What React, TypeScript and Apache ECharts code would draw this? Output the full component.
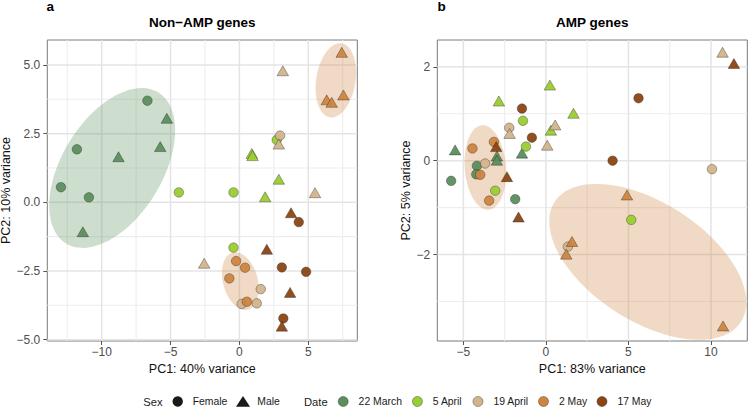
import React, { useEffect, useRef } from 'react';
import * as echarts from 'echarts';

// Sampling dates and the colour used for each one
const dates = ['22 March', '5 April', '19 April', '2 May', '17 May'];
const dateColors = ['#5b8e5d', '#9acd32', '#d2b48c', '#cd853f', '#8b4513'];

// PCA scores [PC1, PC2], one list per sampling date (same order as `dates`)
const nonAmpFemale: [number, number][][] = [
  [[-6.68, 3.7], [-11.8, 1.93], [-12.96, 0.55], [-10.93, 0.18]],
  [[-4.4, 0.36], [-0.43, 0.36], [2.71, 2.27], [-0.43, -1.65]],
  [[2.95, 2.43], [1.55, -3.16], [0.17, -3.7], [1.26, -3.68]],
  [[-0.24, -2.14], [0.41, -2.38], [-0.73, -2.77], [0.54, -3.62]],
  [[4.31, -0.72], [3.08, -2.37], [4.84, -2.53], [3.19, -4.23]],
];
const nonAmpMale: [number, number][][] = [
  [[-5.27, 3.06], [-5.75, 2.03], [-8.78, 1.66], [-11.37, -1.07]],
  [[0.9, 1.78], [0.95, 1.7], [2.86, 0.84], [1.87, 0.2]],
  [[3.15, 4.79], [2.86, 2.12], [5.49, 0.35], [-2.56, -2.22]],
  [[7.43, 5.46], [6.34, 3.73], [6.7, 3.64], [7.55, 3.91]],
  [[3.75, -0.38], [1.99, -1.71], [3.68, -3.28], [3.08, -4.51]],
];
const ampFemale: [number, number][][] = [
  [[-4.18, -0.11], [-4.22, -0.29], [-5.74, -0.43], [-1.86, -0.82]],
  [[-1.39, 0.85], [-1.21, 0.3], [-3.07, -0.64], [5.17, -1.26]],
  [[-2.22, 0.7], [-3.68, -0.06], [10.06, -0.18], [1.33, -1.83]],
  [[-4.45, 0.26], [-3.15, 0.4], [-3.98, -0.3], [-3.44, -0.85]],
  [[5.61, 1.33], [-1.45, 1.11], [-0.85, 0.49], [4.04, 0.0]],
];
const ampMale: [number, number][][] = [
  [[-5.5, 0.23], [-2.97, 0.1], [-2.97, 0.01], [-1.45, 0.16]],
  [[0.24, 1.61], [-2.85, 1.27], [1.67, 1.01], [0.3, 0.65]],
  [[10.7, 2.31], [-2.2, 0.58], [0.56, 0.76], [0.08, 0.33]],
  [[4.91, -0.73], [1.58, -1.72], [1.23, -1.99], [10.73, -3.52]],
  [[11.39, 2.07], [-3.01, 0.3], [-2.36, -0.34], [-1.66, -1.2]],
];

// Group ellipses: [centre PC1, centre PC2, half-width, half-height, correlation, date index]
const nonAmpEllipses: number[][] = [
  [-9.24, 1.25, 4.57, 2.91, 0.47, 0],
  [7.0, 4.44, 1.47, 1.35, 0.21, 3],
  [0.07, -2.87, 1.34, 1.05, -0.27, 3],
];
const ampEllipses: number[][] = [
  [-3.67, -0.145, 1.26, 0.9, -0.12, 3],
  [6.17, -2.155, 5.97, 1.66, -0.52, 3],
];

// Axis ranges and tick values
const nonAmpX = { min: -13.95, max: 8.56, major: [-10, -5, 0, 5], minor: [-12.5, -7.5, -2.5, 2.5, 7.5] };
const nonAmpY = { min: -5.05, max: 5.91, major: [-5, -2.5, 0, 2.5, 5], minor: [-3.75, -1.25, 1.25, 3.75] };
const ampX = { min: -6.58, max: 12.2, major: [-5, 0, 5, 10], minor: [-2.5, 2.5, 7.5] };
const ampY = { min: -3.84, max: 2.57, major: [-2, 0, 2], minor: [-3, -1, 1] };

const FONT = '"Liberation Sans", Arial, Helvetica, sans-serif';

const minus = (s: string) => s.replace('-', '\u2212');

function hexAlpha(hex: string, a: number) {
  const n = parseInt(hex.slice(1), 16);
  return `rgba(${(n >> 16) & 255},${(n >> 8) & 255},${n & 255},${a})`;
}

function axisSet(idx: number, xs: any, ys: any, xName: string, yName: string, yGap: number, yDigits: number) {
  const common = {
    gridIndex: idx,
    type: 'value',
    nameLocation: 'middle',
    nameTextStyle: { fontSize: 12.5, color: '#111', fontFamily: FONT },
    axisLine: { show: false, onZero: false },
    splitLine: { show: false },
    minorTick: { show: false },
    minorSplitLine: { show: false },
  };
  const x = {
    ...common,
    min: xs.min,
    max: xs.max,
    name: xName,
    nameGap: 15,
    axisTick: { show: true, length: 4, lineStyle: { color: '#555', width: 1 }, customValues: xs.major },
    axisLabel: {
      customValues: xs.major,
      color: '#4d4d4d',
      fontSize: 12,
      fontFamily: FONT,
      margin: 5,
      formatter: (v: number) => minus(String(v)),
    },
  };
  const y = {
    ...common,
    min: ys.min,
    max: ys.max,
    name: yName,
    nameGap: yGap,
    axisTick: { show: true, length: 4, lineStyle: { color: '#555', width: 1 }, customValues: ys.major },
    axisLabel: {
      customValues: ys.major,
      color: '#4d4d4d',
      fontSize: 12,
      fontFamily: FONT,
      margin: 7,
      formatter: (v: number) => minus(v.toFixed(yDigits)),
    },
  };
  return { x, y };
}

// Major and minor grid lines as thin filled bands, positioned through the axis scales
function gridSeries(idx: number, xs: any, ys: any) {
  const rows: number[][] = [
    ...xs.minor.map((v: number) => [v, 0, 1]),
    ...ys.minor.map((v: number) => [v, 1, 1]),
    ...xs.major.map((v: number) => [v, 0, 0]),
    ...ys.major.map((v: number) => [v, 1, 0]),
  ];
  return {
    type: 'custom',
    xAxisIndex: idx,
    yAxisIndex: idx,
    z: 1,
    silent: true,
    dimensions: ['v', 'kind', 'minor'],
    encode: { x: 0, y: 1 },
    data: rows,
    renderItem: (_p: any, api: any) => {
      const v = api.value(0);
      const vertical = api.value(1) < 0.5;
      const isMinor = api.value(2) > 0.5;
      const w = isMinor ? 1.1 : 1.5;
      const fill = isMinor ? '#ededed' : '#e4e4e4';
      if (vertical) {
        const top = api.coord([v, ys.max]);
        const bottom = api.coord([v, ys.min]);
        return {
          type: 'rect',
          shape: { x: top[0] - w / 2, y: top[1], width: w, height: bottom[1] - top[1] },
          style: { fill },
        };
      }
      const left = api.coord([xs.min, v]);
      const right = api.coord([xs.max, v]);
      return {
        type: 'rect',
        shape: { x: left[0], y: left[1] - w / 2, width: right[0] - left[0], height: w },
        style: { fill },
      };
    },
  };
}

function ellipseSeries(idx: number, rows: number[][]) {
  return {
    type: 'custom',
    xAxisIndex: idx,
    yAxisIndex: idx,
    z: 2,
    silent: true,
    clip: true,
    dimensions: ['cx', 'cy', 'rx', 'ry', 'rho', 'date'],
    encode: { x: 0, y: 1 },
    data: rows,
    renderItem: (_p: any, api: any) => {
      const cx = api.value(0);
      const cy = api.value(1);
      const rx = api.value(2);
      const ry = api.value(3);
      const rho = api.value(4);
      const color = dateColors[api.value(5)];
      const k = Math.sqrt(1 - rho * rho);
      const pts: number[][] = [];
      const n = 120;
      for (let i = 0; i < n; i++) {
        const t = (i / n) * Math.PI * 2;
        pts.push(api.coord([cx + rx * Math.cos(t), cy + ry * (rho * Math.cos(t) + k * Math.sin(t))]));
      }
      return { type: 'polygon', shape: { points: pts }, style: { fill: hexAlpha(color, 0.3), stroke: null } };
    },
  };
}

function pointSeries(idx: number, female: [number, number][][], male: [number, number][][]) {
  const out: any[] = [];
  dates.forEach((d, i) => {
    [female[i], male[i]].forEach((pts, s) => {
      out.push({
        type: 'scatter',
        name: `${d} ${s === 0 ? 'Female' : 'Male'}`,
        xAxisIndex: idx,
        yAxisIndex: idx,
        z: 3,
        symbol: s === 0 ? 'circle' : 'triangle',
        symbolSize: s === 0 ? 9.5 : [11.5, 10],
        data: pts,
        itemStyle: { color: dateColors[i], borderColor: 'rgba(30,30,30,0.55)', borderWidth: 0.7, opacity: 0.95 },
      });
    });
  });
  return out;
}

// Legend layout along the bottom row
const legendY = 401.5;
const dateLegendX = [343.2, 417.4, 478, 543.5, 602];

function legendGraphics() {
  const txt = (x: number, text: string, size = 10.4) => ({
    type: 'text',
    x,
    y: legendY,
    style: { text, fontSize: size, fontFamily: FONT, fill: '#1a1a1a', verticalAlign: 'middle', align: 'left' },
  });
  const els: any[] = [
    txt(143.3, 'Sex', 11.2),
    { type: 'circle', shape: { cx: 177.7, cy: legendY, r: 5.2 }, style: { fill: '#1a1a1a' } },
    txt(192.7, 'Female'),
    {
      type: 'polygon',
      shape: { points: [[236, legendY + 5.2], [250, legendY + 5.2], [243, legendY - 5.6]] },
      style: { fill: '#1a1a1a' },
    },
    txt(257.3, 'Male'),
    txt(304, 'Date', 11.2),
  ];
  dates.forEach((d, i) => {
    const cx = dateLegendX[i];
    els.push({
      type: 'circle',
      shape: { cx, cy: legendY, r: 5 },
      style: { fill: dateColors[i], stroke: 'rgba(30,30,30,0.55)', lineWidth: 0.7 },
    });
    els.push(txt(cx + 15.4, d));
  });
  return els;
}

export default function App() {
  const ref = useRef<HTMLDivElement>(null);

  useEffect(() => {
    document.body.style.margin = '0';
    if (!ref.current) return;
    const chart = echarts.init(ref.current, undefined, { renderer: 'svg' });

    const a = axisSet(0, nonAmpX, nonAmpY, 'PC1: 40% variance', 'PC2: 10% variance', 32, 1);
    const b = axisSet(1, ampX, ampY, 'PC1: 83% variance', 'PC2: 5% variance', 22, 0);

    const gridStyle = {
      show: true,
      borderColor: '#7a7a7a',
      borderWidth: 1,
      containLabel: false,
      outerBoundsMode: 'none',
    };

    const option: any = {
      animation: false,
      textStyle: { fontFamily: FONT },
      grid: [
        { ...gridStyle, left: 47.3, top: 40, width: 310, height: 301 },
        { ...gridStyle, left: 437.3, top: 40, width: 310, height: 301 },
      ],
      xAxis: [a.x, b.x],
      yAxis: [a.y, b.y],
      series: [
        gridSeries(0, nonAmpX, nonAmpY),
        gridSeries(1, ampX, ampY),
        ellipseSeries(0, nonAmpEllipses),
        ellipseSeries(1, ampEllipses),
        ...pointSeries(0, nonAmpFemale, nonAmpMale),
        ...pointSeries(1, ampFemale, ampMale),
      ],
      graphic: [
        {
          type: 'text',
          x: 46.5,
          y: 6.8,
          style: { text: 'a', fontSize: 13.5, fontWeight: 'bold', fontFamily: FONT, fill: '#000', verticalAlign: 'middle' },
        },
        {
          type: 'text',
          x: 437.5,
          y: 6.8,
          style: { text: 'b', fontSize: 13.5, fontWeight: 'bold', fontFamily: FONT, fill: '#000', verticalAlign: 'middle' },
        },
        {
          type: 'text',
          x: 202.3,
          y: 22.2,
          style: { text: 'Non\u2212AMP genes', fontSize: 13.5, fontWeight: 'bold', fontFamily: FONT, fill: '#000', align: 'center', verticalAlign: 'middle' },
        },
        {
          type: 'text',
          x: 592.3,
          y: 22.2,
          style: { text: 'AMP genes', fontSize: 13.5, fontWeight: 'bold', fontFamily: FONT, fill: '#000', align: 'center', verticalAlign: 'middle' },
        },
        ...legendGraphics(),
      ],
    };

    chart.setOption(option);
    return () => chart.dispose();
  }, []);

  return <div ref={ref} style={{ width: 749, height: 408 }} />;
}
